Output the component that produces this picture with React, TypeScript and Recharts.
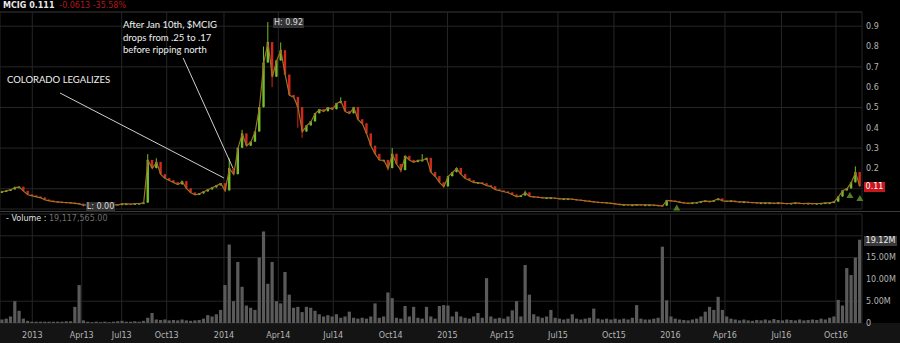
import React from "react";
import {
  ComposedChart,
  Bar,
  Line,
  XAxis,
  YAxis,
  CartesianGrid,
  ReferenceLine,
  ReferenceDot,
} from "recharts";

// weekly closes, Nov 2012 -> Nov 2016
const closes = [
  0.085, 0.09, 0.095, 0.105, 0.108, 0.088, 0.07, 0.065, 0.06, 0.055,
  0.045, 0.04, 0.036, 0.035, 0.033, 0.032, 0.03, 0.028, 0.025, 0.018,
  0.022, 0.02, 0.018, 0.02, 0.022, 0.02, 0.022, 0.02, 0.025, 0.025,
  0.024, 0.026, 0.027, 0.03, 0.24, 0.2, 0.23, 0.17, 0.15, 0.14,
  0.13, 0.12, 0.135, 0.1, 0.08, 0.07, 0.075, 0.085, 0.095, 0.105,
  0.115, 0.125, 0.09, 0.2, 0.17, 0.3, 0.37, 0.31, 0.33, 0.38,
  0.5, 0.72, 0.82, 0.65, 0.73, 0.78, 0.66, 0.56, 0.55, 0.5,
  0.38, 0.41, 0.43, 0.47, 0.49, 0.48, 0.5, 0.49, 0.52, 0.53,
  0.48, 0.47, 0.5, 0.44, 0.42, 0.37, 0.31, 0.27, 0.24, 0.24,
  0.2, 0.27, 0.22, 0.19, 0.26, 0.24, 0.23, 0.24, 0.24, 0.25,
  0.18, 0.16, 0.13, 0.11, 0.16, 0.18, 0.2, 0.17, 0.15, 0.14,
  0.13, 0.13, 0.125, 0.115, 0.11, 0.095, 0.09, 0.085, 0.08, 0.07,
  0.06, 0.065, 0.08, 0.062, 0.06, 0.058, 0.055, 0.055, 0.055, 0.053,
  0.05, 0.05, 0.05, 0.048, 0.045, 0.043, 0.04, 0.038, 0.035, 0.033,
  0.032, 0.03, 0.028, 0.025, 0.022, 0.022, 0.02, 0.02, 0.022, 0.02,
  0.02, 0.02, 0.019, 0.017, 0.015, 0.042, 0.04, 0.038, 0.033, 0.03,
  0.028, 0.03, 0.032, 0.036, 0.04, 0.035, 0.042, 0.05, 0.04, 0.038,
  0.04, 0.036, 0.035, 0.035, 0.033, 0.032, 0.03, 0.03, 0.03, 0.03,
  0.028, 0.03, 0.028, 0.027, 0.028, 0.03, 0.028, 0.027, 0.028, 0.026,
  0.027, 0.028, 0.03, 0.03, 0.035, 0.06, 0.09, 0.1, 0.13, 0.18,
  0.111,
];

// intraweek extremes where the wick sticks out
const wickHigh: Record<number, number> = {
  0: 0.09, 3: 0.11, 4: 0.112, 34: 0.27, 36: 0.25, 42: 0.14, 53: 0.25, 56: 0.39,
  61: 0.8, 62: 0.92, 65: 0.82, 79: 0.55, 91: 0.3, 98: 0.27, 106: 0.205,
  122: 0.09, 199: 0.21,
};
const wickLow: Record<number, number> = {
  19: 0.012, 52: 0.085, 63: 0.6, 69: 0.4, 70: 0.35, 90: 0.19, 93: 0.18, 103: 0.105,
};

// volume in millions
const volumes = [
  0.8, 1.0, 1.5, 5.0, 2.8, 1.0, 0.5, 0.3, 0.3, 0.3,
  0.3, 0.3, 0.3, 0.3, 0.3, 0.4, 0.4, 3.7, 8.7, 0.6,
  0.3, 0.2, 0.3, 0.2, 0.3, 0.2, 0.3, 0.4, 0.5, 0.3,
  0.3, 0.4, 0.3, 0.5, 1.2, 2.3, 0.8, 0.7, 0.8, 0.6,
  0.7, 0.6, 0.8, 0.6, 0.5, 0.6, 0.7, 1.0, 1.8, 1.5,
  2.0, 3.0, 8.7, 18.0, 5.0, 14.0, 8.3, 4.0, 3.5, 3.0,
  15.0, 21.0, 9.0, 14.0, 5.0, 4.5, 11.7, 6.5, 3.5, 3.7,
  2.5, 3.7, 3.5, 2.8, 2.0, 1.5, 1.8, 1.5, 2.0, 1.2,
  1.5, 2.6, 1.2, 1.0, 1.2, 1.0, 1.5, 4.5, 1.2, 1.5,
  7.0, 5.7, 1.2, 1.0, 3.9, 1.5, 3.7, 1.2, 1.0, 3.7,
  1.5, 1.0, 3.9, 4.1, 4.0, 1.5, 2.6, 1.5, 1.2, 1.0,
  1.5, 2.3, 1.2, 10.3, 1.5, 1.0, 1.2, 1.0, 1.5, 2.9,
  5.0, 1.5, 13.3, 6.5, 2.0, 1.5, 1.2, 1.5, 3.0, 1.2,
  1.0, 0.8, 1.0, 2.0, 1.0, 0.8, 1.0, 1.2, 3.3, 1.0,
  0.8, 1.0, 0.8, 1.0, 0.8, 1.0, 0.8, 1.2, 4.1, 1.0,
  0.8, 0.8, 1.0, 1.2, 17.5, 5.2, 1.5, 1.0, 0.8, 0.7,
  0.6, 0.8, 1.0, 1.5, 2.6, 3.7, 3.0, 6.0, 3.0, 1.5,
  1.0, 0.8, 0.6, 0.8, 0.6, 0.5, 0.7, 0.6, 0.8, 0.6,
  0.9, 0.7, 0.6, 0.8, 0.7, 0.6, 0.8, 0.6, 0.7, 0.8,
  0.7, 1.0, 0.8, 1.2, 1.5, 5.3, 4.0, 12.6, 11.0, 15.0,
  19.1,
];

const tickSlots = [
  7.03, 18.55, 27.88, 38.37, 51.73, 64.39, 77.21, 90.59,
  103.84, 116.55, 129.6, 142.66, 155.83, 168.54, 181.71, 194.42,
];
const tickLabels = [
  "2013", "Apr13", "Jul13", "Oct13", "2014", "Apr14", "Jul14", "Oct14",
  "2015", "Apr15", "Jul15", "Oct15", "2016", "Apr16", "Jul16", "Oct16",
];
const priceTicks = [0.1, 0.2, 0.3, 0.4, 0.5, 0.6, 0.7, 0.8, 0.9];
const volumeTicks = [0, 5, 10, 15, 20];

const GREEN = "#74bd2c";
const RED = "#d3261d";
const GRID = "#262626";
const TICK = { fill: "#b4b4b4", fontSize: 8, fontFamily: "DejaVu Sans" };

const rows = closes.map((c, i) => {
  const o = i === 0 ? c : closes[i - 1];
  const hi = Math.max(o, c, wickHigh[i] ?? 0);
  const lo = Math.min(o, c, wickLow[i] ?? 10);
  return { i, o, c, hi, lo, vol: volumes[i] };
});

function Candle(props: any) {
  const { x, y, width, height, payload } = props;
  if (!payload) return null;
  const { o, c, hi, lo } = payload;
  const top = Math.min(y, y + height);
  const h = Math.abs(height);
  const k = hi > lo ? h / (hi - lo) : 0;
  const cx = x + width / 2;
  const color = c >= o ? GREEN : RED;
  const bTop = top + (hi - Math.max(o, c)) * k;
  const bH = Math.max(Math.abs(o - c) * k, 1.6);
  return (
    <g>
      <line x1={cx} x2={cx} y1={top} y2={top + h} stroke={color} strokeWidth={1} />
      <rect x={cx - 1.2} y={bTop - 0.4} width={2.4} height={bH} fill={color} />
    </g>
  );
}

function VolBar(props: any) {
  const { x, y, width, height } = props;
  const top = Math.min(y, y + height);
  return <rect x={x + width / 2 - 1.6} y={top} width={3.2} height={Math.abs(height)} fill="#5a5a5a" />;
}

function Triangle(props: any) {
  const { cx, cy } = props;
  return <path d={`M${cx - 3.5},${cy + 3} L${cx + 3.5},${cy + 3} L${cx},${cy - 3} Z`} fill="#4f7f22" />;
}

const fmtTime = (v: number) => tickLabels[tickSlots.indexOf(v)] ?? "";
// 0.1 and 20M sit under the last-value badges
const fmtPrice = (v: number) => (v === 0.1 ? "" : String(v));
const fmtVol = (v: number) => (v === 0 ? "0" : v === 20 ? "" : `${v.toFixed(2)}M`);

const box = (extra: React.CSSProperties): React.CSSProperties => ({
  position: "absolute",
  fontFamily: "DejaVu Sans",
  fontSize: 8,
  lineHeight: "10px",
  textAlign: "center",
  ...extra,
});

export default function App() {
  return (
    <div style={{ position: "absolute", left: 0, top: 0, width: 900, height: 343, background: "#000", overflow: "hidden" }}>
      <div style={{ position: "absolute", left: 0, top: 323, width: 900, height: 20, background: "#141414" }} />
      <div style={{ position: "absolute", left: 0, top: 0 }}>
        <ComposedChart width={900} height={212} data={rows} margin={{ top: 12, right: 0, bottom: 3, left: 0 }}>
          <CartesianGrid xAxisId="t" stroke={GRID} />
          <XAxis xAxisId="t" dataKey="i" type="number" domain={[-0.5, 200.5]} ticks={tickSlots} hide height={0} />
          <XAxis xAxisId="c" dataKey="i" type="category" hide height={0} />
          <YAxis
            orientation="right"
            width={38}
            domain={[0, 0.97]}
            ticks={priceTicks}
            tick={TICK}
            tickSize={0}
            tickMargin={4}
            axisLine={false}
            tickLine={false}
            tickFormatter={fmtPrice}
            allowDataOverflow
          />
          <ReferenceLine xAxisId="t" y={0.97} stroke={GRID} />
          <Line
            xAxisId="c"
            dataKey="c"
            stroke="#9c7424"
            strokeWidth={1.2}
            dot={false}
            isAnimationActive={false}
          />
          <Bar xAxisId="c" dataKey={(d: any) => [d.lo, d.hi]} shape={Candle} isAnimationActive={false} />
          <ReferenceLine
            xAxisId="t"
            segment={[{ x: 13.5, y: 0.571 }, { x: 51.7, y: 0.153 }]}
            stroke="#cfcfcf"
            strokeWidth={1}
          />
          <ReferenceLine
            xAxisId="t"
            segment={[{ x: 42.2, y: 0.744 }, { x: 53.8, y: 0.202 }]}
            stroke="#cfcfcf"
            strokeWidth={1}
          />
          <ReferenceDot xAxisId="t" x={197.7} y={0.069} r={4} shape={Triangle} />
          <ReferenceDot xAxisId="t" x={200} y={0.054} r={4} shape={Triangle} />
          <ReferenceDot xAxisId="t" x={157.3} y={0.008} r={4} shape={Triangle} />
        </ComposedChart>
      </div>
      <div style={{ position: "absolute", left: 0, top: 211, width: 900, height: 1, background: "#3a3a3a" }} />
      <div style={{ position: "absolute", left: 0, top: 212 }}>
        <ComposedChart width={900} height={131} data={rows} margin={{ top: 2, right: 0, bottom: 0, left: 0 }}>
          <CartesianGrid xAxisId="t" stroke={GRID} />
          <XAxis
            xAxisId="t"
            dataKey="i"
            type="number"
            domain={[-0.5, 200.5]}
            ticks={tickSlots}
            tickFormatter={fmtTime}
            tick={TICK}
            tickSize={0}
            tickMargin={9}
            axisLine={false}
            tickLine={false}
            height={20}
            interval={0}
          />
          <XAxis xAxisId="c" dataKey="i" type="category" hide height={0} />
          <YAxis
            orientation="right"
            width={38}
            domain={[0, 25]}
            ticks={volumeTicks}
            tick={TICK}
            tickSize={0}
            tickMargin={4}
            axisLine={false}
            tickLine={false}
            tickFormatter={fmtVol}
          />
          <Bar xAxisId="c" dataKey="vol" shape={VolBar} isAnimationActive={false} />
        </ComposedChart>
      </div>

      <div style={{ position: "absolute", left: 3, top: 1, fontFamily: "DejaVu Sans", fontSize: 8, fontWeight: "bold", color: "#e8e8e8", whiteSpace: "nowrap" }}>
        MCIG 0.111 <span style={{ color: "#b3161c", fontWeight: "normal", marginLeft: 2 }}>-0.0613 -35.58%</span>
      </div>
      <div style={{ position: "absolute", left: 7, top: 74, fontFamily: "Lato", fontSize: 9.5, color: "#f0f0f0", whiteSpace: "nowrap" }}>
        COLORADO LEGALIZES
      </div>
      <div style={{ position: "absolute", left: 123, top: 19, fontFamily: "Lato", fontSize: 9.5, lineHeight: "12.5px", color: "#f0f0f0", whiteSpace: "nowrap" }}>
        After Jan 10th, $MCIG
        <br />
        drops from .25 to .17
        <br />
        before ripping north
      </div>
      <div style={box({ left: 273, top: 18, width: 31, height: 10, background: "#333", color: "#dcdcdc" })}>H: 0.92</div>
      <div style={box({ left: 86, top: 202, width: 29, height: 10, background: "#333", color: "#dcdcdc" })}>L: 0.00</div>
      <div style={box({ left: 864, top: 181.5, width: 21, height: 10, background: "#c8161e", color: "#fff" })}>0.11</div>
      <div style={box({ left: 864, top: 235.5, width: 33, height: 10, background: "#3a3a3a", color: "#eee" })}>19.12M</div>
      <div style={{ position: "absolute", left: 6, top: 214, fontFamily: "DejaVu Sans", fontSize: 8, color: "#e0e0e0", whiteSpace: "nowrap" }}>
        - Volume : <span style={{ color: "#6e6e6e" }}>19,117,565.00</span>
      </div>
    </div>
  );
}
